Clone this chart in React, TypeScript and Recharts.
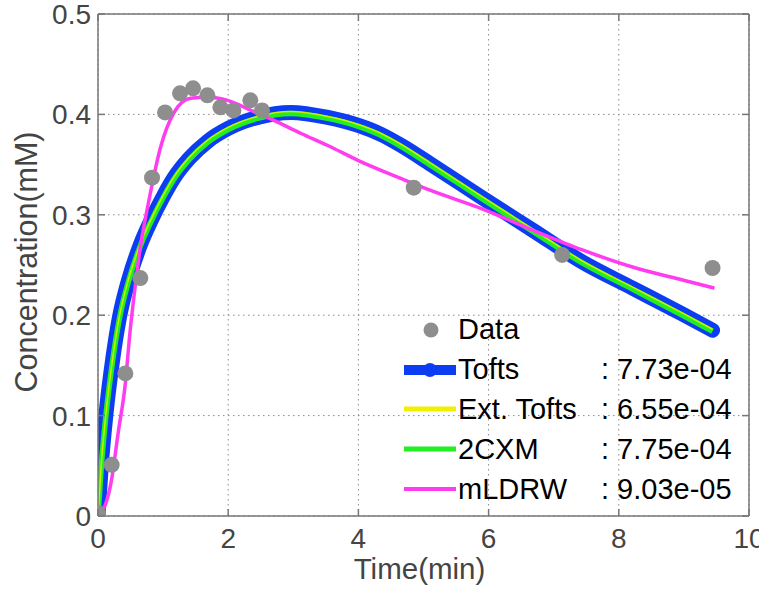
import React from 'react';
import {
    ComposedChart,
    Line,
    Scatter,
    XAxis,
    YAxis,
    CartesianGrid,
    ReferenceLine,
} from 'recharts';

const dataTimes = [0, 0.21, 0.42, 0.65, 0.83, 1.03, 1.26, 1.46, 1.68, 1.88, 2.08, 2.34, 2.52, 4.85, 7.13, 9.44];
const dataValues = [0.003, 0.051, 0.142, 0.237, 0.337, 0.402, 0.421, 0.426, 0.419, 0.407, 0.404, 0.414, 0.404, 0.327, 0.26, 0.247];

// model fits
const fitTimes = [0, 0.05, 0.12, 0.23, 0.33, 0.47, 0.65, 0.82, 1.0, 1.16, 1.4, 1.68, 2.0, 2.45, 2.96, 3.53, 4.0, 4.35, 4.66, 5.12, 5.9, 6.67, 7.44, 8.21, 8.98, 9.44];
const toftsValues = [0, 0.05, 0.1, 0.158, 0.198, 0.235, 0.27, 0.295, 0.318, 0.336, 0.356, 0.373, 0.386, 0.397, 0.402, 0.397, 0.389, 0.38, 0.369, 0.35, 0.317, 0.285, 0.253, 0.227, 0.201, 0.185];
const extToftsValues = [0, 0.051, 0.101, 0.159, 0.199, 0.236, 0.271, 0.296, 0.319, 0.337, 0.357, 0.374, 0.387, 0.398, 0.403, 0.398, 0.39, 0.381, 0.37, 0.351, 0.318, 0.286, 0.254, 0.228, 0.202, 0.186];
const cxmValues = [0, 0.049, 0.099, 0.157, 0.197, 0.234, 0.269, 0.294, 0.317, 0.335, 0.355, 0.372, 0.385, 0.396, 0.401, 0.396, 0.388, 0.379, 0.368, 0.349, 0.316, 0.284, 0.252, 0.226, 0.2, 0.184];

const mldrwTimes = [0, 0.05, 0.2, 0.31, 0.42, 0.49, 0.57, 0.66, 0.76, 0.96, 1.16, 1.42, 1.68, 1.99, 2.35, 2.7, 3.12, 3.53, 4.0, 4.66, 5.12, 5.9, 6.67, 7.44, 8.21, 8.98, 9.47];
const mldrwValues = [0, 0.003, 0.033, 0.083, 0.132, 0.182, 0.228, 0.272, 0.307, 0.367, 0.401, 0.416, 0.417, 0.414, 0.404, 0.394, 0.381, 0.369, 0.354, 0.336, 0.324, 0.306, 0.285, 0.265, 0.248, 0.235, 0.227];

const xTicks = [0, 2, 4, 6, 8, 10];
const yTicks = [0, 0.1, 0.2, 0.3, 0.4, 0.5];

const legendNames = ['Tofts', 'Ext. Tofts', '2CXM', 'mLDRW'];
const legendErrors = ['7.73e-04', '6.55e-04', '7.75e-04', '9.03e-05'];

const toPoints = (ts, vs) => ts.map((t, i) => ({ t, c: vs[i] }));

const measured = toPoints(dataTimes, dataValues);
const tofts = toPoints(fitTimes, toftsValues);
const extTofts = toPoints(fitTimes, extToftsValues);
const cxm = toPoints(fitTimes, cxmValues);
const mldrw = toPoints(mldrwTimes, mldrwValues);

const W = 759;
const H = 591;
const PLOT_TOP = 14;
const PLOT_BOTTOM = 516;
const PLOT_LEFT = 98;
const PLOT_RIGHT = 749;

const FONT = '"Liberation Sans", Arial, Helvetica, sans-serif';
const AXIS_COLOR = '#777';
const TICK_TEXT = '#444';

const BLUE = '#0d3df2';
const YELLOW = '#f2f000';
const GREEN = '#22ee22';
const MAGENTA = '#ff3cf0';
const GRAY = '#8e8e8e';

const XTick = ({ x, payload }) => (
    <g>
        <line x1={x} x2={x} y1={PLOT_BOTTOM} y2={PLOT_BOTTOM - 7} stroke={AXIS_COLOR} strokeWidth={1.5} />
        <line x1={x} x2={x} y1={PLOT_TOP} y2={PLOT_TOP + 7} stroke={AXIS_COLOR} strokeWidth={1.5} />
        <text x={x} y={PLOT_BOTTOM + 32} textAnchor="middle" fontSize={28} fill={TICK_TEXT} fontFamily={FONT}>
            {payload.value}
        </text>
    </g>
);

const YTick = ({ y, payload }) => (
    <g>
        <line x1={PLOT_LEFT} x2={PLOT_LEFT + 7} y1={y} y2={y} stroke={AXIS_COLOR} strokeWidth={1.5} />
        <line x1={PLOT_RIGHT - 7} x2={PLOT_RIGHT} y1={y} y2={y} stroke={AXIS_COLOR} strokeWidth={1.5} />
        <text x={PLOT_LEFT - 7} y={y} dy="0.36em" textAnchor="end" fontSize={28} fill={TICK_TEXT} fontFamily={FONT}>
            {payload.value}
        </text>
    </g>
);

const YLabel = ({ viewBox }) => {
    const cx = viewBox.x + 26;
    const cy = viewBox.y + viewBox.height / 2 - 3;
    return (
        <text x={cx} y={cy} dy="0.35em" transform={`rotate(-90 ${cx} ${cy})`} textAnchor="middle" fontSize={30.5} fill={TICK_TEXT} fontFamily={FONT}>
            Concentration(mM)
        </text>
    );
};

const XLabel = ({ viewBox }) => (
    <text x={viewBox.x + viewBox.width / 2 - 4} y={PLOT_BOTTOM + 63} textAnchor="middle" fontSize={29.5} fill={TICK_TEXT} fontFamily={FONT}>
        Time(min)
    </text>
);

const LegendSymbol = ({ kind }) => {
    if (kind === 'Data') {
        return <svg width={54} height={20}><circle cx={27} cy={10} r={7.5} fill={GRAY} /></svg>;
    }
    const colors = { Tofts: BLUE, 'Ext. Tofts': YELLOW, '2CXM': GREEN, mLDRW: MAGENTA };
    const widths = { Tofts: 10, 'Ext. Tofts': 5, '2CXM': 5, mLDRW: 4 };
    return (
        <svg width={54} height={20}>
            <line x1={0} x2={52} y1={10} y2={10} stroke={colors[kind]} strokeWidth={widths[kind]} />
            {kind === 'Tofts' && <circle cx={26} cy={10} r={7} fill={BLUE} />}
        </svg>
    );
};

const ChartLegend = () => {
    const rows = [{ name: 'Data', err: null }].concat(
        legendNames.map((name, i) => ({ name, err: legendErrors[i] }))
    );
    return (
        <div style={{ position: 'absolute', left: 404, top: 310, fontFamily: FONT, fontSize: 29, color: '#000' }}>
            {rows.map((r) => (
                <div key={r.name} style={{ position: 'relative', height: 39.8, display: 'flex', alignItems: 'center' }}>
                    <LegendSymbol kind={r.name} />
                    <span style={{ lineHeight: 1 }}>{r.name}</span>
                    {r.err && (
                        <span style={{ position: 'absolute', left: 197, lineHeight: 1, whiteSpace: 'pre' }}>{': ' + r.err}</span>
                    )}
                </div>
            ))}
        </div>
    );
};

export default function App() {
    return (
        <div style={{ position: 'absolute', left: 0, top: 0, width: W, height: H, background: '#fff', overflow: 'hidden' }}>
            <ComposedChart
                width={W}
                height={H}
                margin={{ top: PLOT_TOP, right: W - PLOT_RIGHT, bottom: 0, left: 0 }}
            >
                <CartesianGrid stroke="#8a8a8a" strokeDasharray="1.5 3.5" />
                <XAxis
                    type="number"
                    dataKey="t"
                    domain={[0, 10]}
                    ticks={xTicks}
                    height={H - PLOT_BOTTOM}
                    tickSize={0}
                    tickMargin={0}
                    tickLine={false}
                    axisLine={{ stroke: AXIS_COLOR, strokeWidth: 1.5 }}
                    tick={XTick}
                    label={XLabel}
                    allowDataOverflow
                />
                <YAxis
                    type="number"
                    dataKey="c"
                    domain={[0, 0.5]}
                    ticks={yTicks}
                    width={PLOT_LEFT}
                    tickSize={0}
                    tickMargin={0}
                    tickLine={false}
                    axisLine={{ stroke: AXIS_COLOR, strokeWidth: 1.5 }}
                    tick={YTick}
                    label={YLabel}
                    allowDataOverflow
                />
                <ReferenceLine y={0.5} stroke={AXIS_COLOR} strokeWidth={1.5} />
                <ReferenceLine x={10} stroke={AXIS_COLOR} strokeWidth={1.5} />
                <Scatter
                    data={measured}
                    dataKey="c"
                    isAnimationActive={false}
                    shape={(p) => <circle cx={p.cx} cy={p.cy} r={8} fill={GRAY} />}
                />
                <Line data={tofts} dataKey="c" type="monotone" stroke={BLUE} strokeWidth={15} strokeLinecap="round" strokeLinejoin="round" dot={false} isAnimationActive={false} />
                <Line data={cxm} dataKey="c" type="monotone" stroke={GREEN} strokeWidth={5.5} dot={false} isAnimationActive={false} />
                <Line data={extTofts} dataKey="c" type="monotone" stroke={YELLOW} strokeWidth={1.5} strokeOpacity={0.8} dot={false} isAnimationActive={false} />
                <Line data={mldrw} dataKey="c" type="monotone" stroke={MAGENTA} strokeWidth={3.5} dot={false} isAnimationActive={false} />
            </ComposedChart>
            <ChartLegend />
        </div>
    );
}
